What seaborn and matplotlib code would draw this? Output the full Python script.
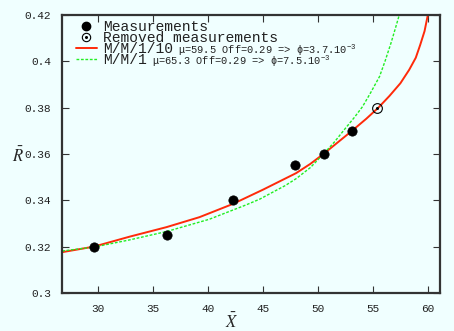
import matplotlib
matplotlib.use('Agg')
import matplotlib.pyplot as plt
from matplotlib.lines import Line2D
import seaborn as sns

# measured points
meas_x = [29.6, 36.2, 42.3, 47.9, 50.5, 53.1]
meas_y = [0.320, 0.325, 0.340, 0.355, 0.360, 0.370]
removed_x = [55.4]
removed_y = [0.380]

# model curves
mm110_x = [26.7, 29.6, 32.85, 36.2, 39.2, 42.24, 45.0, 48.0, 49.3, 50.5, 51.8, 53.1, 54.4, 55.5,
           56.5, 57.5, 58.3, 58.9, 59.3, 59.7, 60.0, 60.3]
mm110_y = [0.3176, 0.3200, 0.3243, 0.3284, 0.3327, 0.3384, 0.3446, 0.3517, 0.3557, 0.3600, 0.3650,
           0.3700, 0.3752, 0.3800, 0.3850, 0.3905, 0.3963, 0.4015, 0.4070, 0.4130, 0.4200, 0.4280]
mm1_x = [26.7, 29.6, 32.85, 36.2, 40.1, 43.45, 44.7, 46.0, 47.0, 48.0, 49.3, 50.5, 51.5, 52.5, 53.3,
         54.05, 54.8, 55.6, 56.1, 56.64, 57.0, 57.4, 57.7]
mm1_y = [0.3181, 0.3198, 0.3229, 0.3265, 0.3318, 0.3380, 0.3405, 0.3438, 0.3463, 0.3493, 0.3541,
         0.3600, 0.3652, 0.3711, 0.3757, 0.3804, 0.3865, 0.3934, 0.4000, 0.4078, 0.4135, 0.4200, 0.4260]

x_ticks = [30, 35, 40, 45, 50, 55, 60]
y_ticks = [0.3, 0.32, 0.34, 0.36, 0.38, 0.4, 0.42]
y_tick_labels = ['0.3', '0.32', '0.34', '0.36', '0.38', '0.4', '0.42']

sns.set_theme(style='ticks')
plt.rcParams['font.family'] = ['Liberation Mono', 'DejaVu Sans']
plt.rcParams['mathtext.default'] = 'regular'

bg = '#f0ffff'
fig = plt.figure(figsize=(4.54, 3.31), dpi=100, facecolor=bg)
ax = fig.add_axes([0.137, 0.115, 0.832, 0.84], facecolor=bg)

red = '#ff2a0a'
green = '#22ee22'
sns.lineplot(x=mm110_x, y=mm110_y, ax=ax, color=red, lw=1.4, sort=False, estimator=None)
sns.lineplot(x=mm1_x, y=mm1_y, ax=ax, color=green, lw=1.0, sort=False, estimator=None)
ax.lines[-1].set_dashes((2, 1.2))
sns.scatterplot(x=meas_x, y=meas_y, ax=ax, color='black', s=45, edgecolor='black', linewidth=0.5, zorder=5)
ax.plot(removed_x, removed_y, 'o', ms=7, mfc='none', mec='black', mew=0.8, zorder=5)
ax.plot(removed_x, removed_y, 'o', ms=1.2, color='black', zorder=5)

ax.set_xlim(26.7, 61.1)
ax.set_ylim(0.3, 0.42)
ax.set_xticks(x_ticks)
ax.set_yticks(y_ticks)
ax.set_yticklabels(y_tick_labels)
ax.tick_params(direction='in', length=5, width=0.8, color='#333333', top=True, right=True,
               labelsize=8, pad=8, labelcolor='#222222')
for s in ax.spines.values():
    s.set_color('#333333')
    s.set_linewidth(1.6)

# axis labels
fig.text(232 / 454, 1 - 321 / 331, r'$\bar{\mathit{X}}$', fontsize=12, math_fontfamily='stix',
         ha='center', va='center')
fig.text(18 / 454, 1 - 155 / 331, r'$\bar{\mathit{R}}$', fontsize=12, math_fontfamily='stix',
         ha='center', va='center')

h_meas = Line2D([], [], ls='none', marker='o', ms=6, color='black')
h_rem = (Line2D([], [], ls='none', marker='o', ms=6, mfc='none', mec='black', mew=0.8),
         Line2D([], [], ls='none', marker='o', ms=1.2, color='black'))
h_red = Line2D([], [], color=red, lw=1.4)
h_green = Line2D([], [], color=green, lw=1.0, dashes=(2, 1.2))
leg = ax.legend([h_meas, h_rem, h_red, h_green],
                ['Measurements', 'Removed measurements', 'M/M/1/10', 'M/M/1'],
                loc='upper left', bbox_to_anchor=(13.7 / 378, 1 - 5 / 278), frameon=False,
                fontsize=10.5, handlelength=1.45, handletextpad=0.4, labelspacing=-0.2,
                borderaxespad=0, borderpad=0)
for t in leg.get_texts():
    t.set_color('#222222')

# small annotation text after the model labels
fig.canvas.draw()
rend = fig.canvas.get_renderer()
extras = {2: r'$\mu$=59.5 Off=0.29 => $\phi$=3.7.10$^{-3}$',
          3: r'$\mu$=65.3 Off=0.29 => $\phi$=7.5.10$^{-3}$'}
inv = fig.transFigure.inverted()
for i, txt in extras.items():
    bb = leg.get_texts()[i].get_window_extent(rend)
    x0, y0 = inv.transform((bb.x1 + 5, (bb.y0 + bb.y1) / 2 - 1))
    fig.text(x0, y0, txt, fontsize=7.5, va='center', ha='left', color='#222222')

fig.savefig('out.png', dpi=100, facecolor=bg)
